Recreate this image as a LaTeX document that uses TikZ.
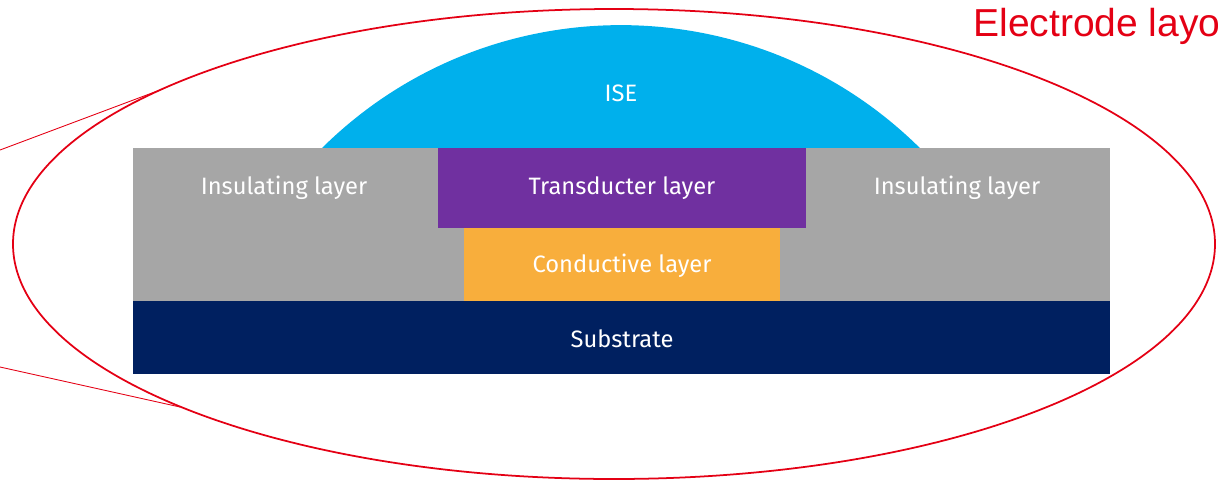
\documentclass[tikz,border=0pt]{standalone}
\usepackage{fontspec}
\setmainfont{Liberation Sans}
\newfontfamily\labelfont{Fira Sans}
\usetikzlibrary{
		calc,
		positioning
	}
\definecolor{iseblue}{RGB}{0,176,236}
\definecolor{insgray}{RGB}{166,166,166}
\definecolor{transpurple}{RGB}{112,48,160}
\definecolor{condorange}{RGB}{248,174,60}
\definecolor{subnavy}{RGB}{0,32,96}
\definecolor{callred}{RGB}{228,0,20}
\tikzset{
		layertext/.style={text=white, font=\labelfont\fontsize{13.5}{15}\selectfont, inner sep=0pt},
		callout/.style={callred, line width=1pt}
	}

\begin{document}
\begin{tikzpicture}[x=0.02cm, y=-0.02cm]
		\useasboundingbox (0,0) rectangle (1218,481);
		% dome and layers
		\fill[iseblue] (322,148) arc[start angle=225.3, end angle=314.7, radius=425] -- cycle;
		\fill[insgray] (133,148) rectangle (1110,301);
		\fill[subnavy] (133,301) rectangle (1110,374);
		\fill[transpurple] (438,148) rectangle (806,228);
		\fill[condorange] (464,228) rectangle (780,301);
		\node[layertext] (ise) at (621,93) {ISE};
		\node[layertext] (insleft) at (284,188) {Insulating layer};
		\node[layertext] (trans) at (622,188) {Transducter layer};
		\node[layertext] (insright) at (957,188) {Insulating layer};
		\node[layertext] (cond) at (622,266) {Conductive layer};
		\node[layertext] (sub) at (622,339) {Substrate};
		% callout
		\draw[callout] (614,244) ellipse [x radius=601, y radius=235];
		\coordinate (upin) at (0,150); \coordinate (upon) at (160,90);
		\coordinate (lowin) at (0,367); \coordinate (lowon) at (180,407);
		\draw[callred, line width=0.5pt] (upin) -- (upon);
		\draw[callred, line width=0.5pt] (lowin) -- (lowon);
		\node[callred, anchor=base west, inner sep=0pt, font=\fontsize{22.2}{24}\selectfont] (title) at (973,36) {Electrode layo};
	\end{tikzpicture}
\end{document}
